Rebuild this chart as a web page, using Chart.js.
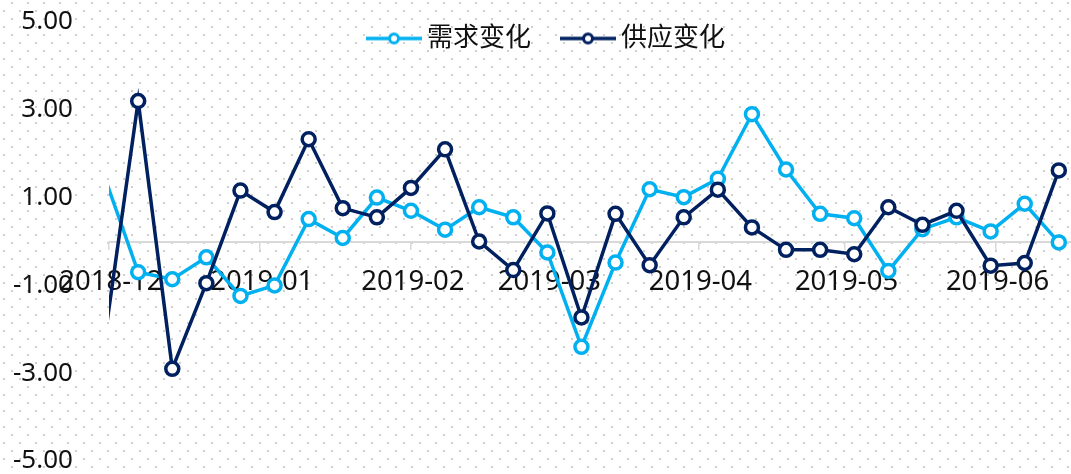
<!DOCTYPE html>
<html>
<head>
<meta charset="utf-8">
<script src="https://cdn.jsdelivr.net/npm/chart.js@4.4.1/dist/chart.umd.min.js"></script>
<style>
  html, body { margin: 0; padding: 0; background: #fff; }
  #chart { display: block; }
</style>
</head>
<body>
<canvas id="chart" width="1071" height="474"></canvas>
<script>
// weekly observations (Fridays); the first one falls just before the visible range
const weeks = [
  "2018-11-30", "2018-12-07", "2018-12-14", "2018-12-21", "2018-12-28",
  "2019-01-04", "2019-01-11", "2019-01-18", "2019-01-25",
  "2019-02-01", "2019-02-08", "2019-02-15", "2019-02-22",
  "2019-03-01", "2019-03-08", "2019-03-15", "2019-03-22", "2019-03-29",
  "2019-04-05", "2019-04-12", "2019-04-19", "2019-04-26",
  "2019-05-03", "2019-05-10", "2019-05-17", "2019-05-24", "2019-05-31",
  "2019-06-07", "2019-06-14"
];
const demand = [1.5, -0.70, -0.86, -0.36, -1.24, -1.00, 0.51, 0.08, 1.00, 0.70, 0.27, 0.78, 0.55,
  -0.25, -2.40, -0.48, 1.19, 1.01, 1.43, 2.90, 1.64, 0.63, 0.53, -0.67, 0.28, 0.55, 0.23, 0.86, -0.02];
const supply = [-2.32, 3.20, -2.90, -0.95, 1.16, 0.67, 2.33, 0.76, 0.55, 1.22, 2.10, 0.00, -0.65,
  0.64, -1.73, 0.63, -0.54, 0.55, 1.18, 0.32, -0.19, -0.19, -0.29, 0.78, 0.38, 0.70, -0.55, -0.49, 1.62];

const seriesNames = ["需求变化", "供应变化"];
const monthLabels = ["2018-12", "2019-01", "2019-02", "2019-03", "2019-04", "2019-05", "2019-06"];
const yTicks = [-5, -3, -1, 1, 3, 5];

const colors = ["#00B0F0", "#002060"];

const day = s => Date.parse(s) / 86400000;
const xMin = day("2018-12-01");
const xMax = day("2019-06-16") + 0.5;
const monthTicks = monthLabels.map(m => day(m + "-01"));

const toPoints = vals => vals.map((v, i) => ({ x: day(weeks[i]), y: v }));

// legend symbol: short line with a hollow circle
function legendIcon(color) {
  const c = document.createElement("canvas");
  c.width = 56; c.height = 16;
  const g = c.getContext("2d");
  g.strokeStyle = color;
  g.lineWidth = 3.5;
  g.beginPath(); g.moveTo(0, 8); g.lineTo(56, 8); g.stroke();
  g.fillStyle = "#fff";
  g.lineWidth = 3;
  g.beginPath(); g.arc(28, 8, 4.5, 0, Math.PI * 2); g.fill(); g.stroke();
  return c;
}
const icons = colors.map(legendIcon);

const dotted = {
  id: "dotted",
  beforeDraw(chart) {
    const ctx = chart.ctx;
    ctx.save();
    ctx.fillStyle = "#fff";
    ctx.fillRect(0, 0, chart.width, chart.height);
    ctx.fillStyle = "#cfcfcf";
    for (let y = 3; y < chart.height + 16; y += 16) {
      for (let x = 12; x < chart.width + 16; x += 16) {
        ctx.fillRect(x - 1, y - 1, 2, 2);
        ctx.fillRect(x - 9, y + 7, 2, 2);
      }
    }
    ctx.restore();
  }
};

// legend sits over the plot, so it takes no layout space
const legendOverlay = {
  id: "legendOverlay",
  beforeInit(chart) {
    const lg = chart.legend;
    const fit = lg.fit;
    lg.fit = function () { fit.call(this); this.height = 0; };
    lg.draw = function () {
      const ctx = this.ctx;
      ctx.save();
      ctx.translate(7.5, -33.5);
      this._draw();
      ctx.restore();
    };
  }
};

Chart.defaults.font.family = "'Noto Sans', 'Noto Sans CJK SC', sans-serif";
Chart.defaults.color = "#111";

const makeSet = (label, vals, color, order) => ({
  label: label,
  data: toPoints(vals),
  borderColor: color,
  backgroundColor: color,
  borderWidth: 3.5,
  tension: 0,
  order: order,
  pointRadius: c => (c.raw && c.raw.x < xMin ? 0 : 6.5),
  pointBorderWidth: 3.5,
  pointBorderColor: color,
  pointBackgroundColor: "#fff"
});

new Chart(document.getElementById("chart"), {
  type: "line",
  data: {
    datasets: [
      makeSet(seriesNames[0], demand, colors[0], 1),
      makeSet(seriesNames[1], supply, colors[1], 0)
    ]
  },
  options: {
    responsive: false,
    animation: false,
    events: [],
    layout: { autoPadding: false, padding: { left: 13, right: 0, top: 22, bottom: 0 } },
    scales: {
      x: {
        type: "linear",
        min: xMin,
        max: xMax,
        position: { y: 0 },
        afterBuildTicks: s => { s.ticks = monthTicks.map(v => ({ value: v })); },
        afterFit: s => { s.paddingLeft = 0; s.paddingRight = 0; },
        ticks: {
          callback: (v, i) => monthLabels[i],
          autoSkip: false,
          maxRotation: 0,
          padding: 17,
          labelOffset: 2,
          font: { size: 27.5 },
          color: "#111"
        },
        grid: { drawOnChartArea: false, drawTicks: true, tickLength: 7, color: "#d9d9d9", lineWidth: 1.5 },
        border: { display: true, color: "#d9d9d9", width: 2 }
      },
      y: {
        min: -5,
        max: 5,
        afterBuildTicks: s => { s.ticks = yTicks.map(v => ({ value: v })); },
        ticks: {
          callback: v => v.toFixed(2),
          padding: 0,
          font: { size: 26, lineHeight: 1 },
          color: "#111"
        },
        grid: { display: true, drawOnChartArea: false, drawTicks: true, tickLength: 36, color: "rgba(0,0,0,0)" },
        border: { display: false }
      }
    },
    plugins: {
      tooltip: { enabled: false },
      legend: {
        position: "top",
        labels: {
          usePointStyle: true,
          pointStyleWidth: 40,
          padding: 37,
          font: { size: 26 },
          color: "#111",
          sort: (a, b) => a.datasetIndex - b.datasetIndex,
          generateLabels: chart => {
            const items = Chart.defaults.plugins.legend.labels.generateLabels(chart);
            items.forEach(it => { it.pointStyle = icons[it.datasetIndex]; });
            return items;
          }
        }
      }
    }
  },
  plugins: [dotted, legendOverlay]
});
</script>
</body>
</html>
